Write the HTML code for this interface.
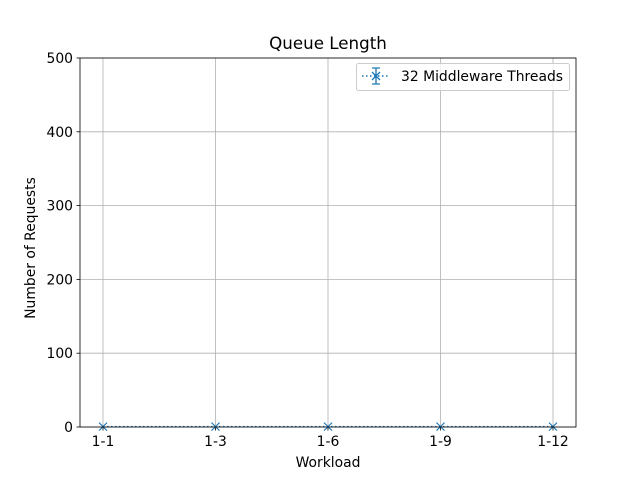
<!DOCTYPE html>
<html><head><meta charset="utf-8"><style>body{margin:0;background:#fff}svg{display:block;font-family:"DejaVu Sans","Liberation Sans",sans-serif}</style></head>
<body>
<svg id="c" width="640" height="480"></svg>
<script>
const categories=["1-1","1-3","1-6","1-9","1-12"];
const values=[0.5,0.5,0.5,0.5,0.5];
const errors=[0.3,0.3,0.3,0.3,0.3];
const yTicks=[0,100,200,300,400,500];
const NS="http://www.w3.org/2000/svg";
const svg=document.getElementById('c');
const L=80,R=576,T=58,B=427;
const xs=i=>103+i*(553-103)/(categories.length-1);
const ys=v=>B-(v/500)*(B-T);
function el(t,a,p){const e=document.createElementNS(NS,t);for(const k in a)e.setAttribute(k,a[k]);(p||svg).appendChild(e);return e;}
function txt(x,y,s,size,anchor,name,extra){const e=el('text',Object.assign({x:x,y:y,'font-size':size,'text-anchor':anchor,fill:'#000'},extra||{}));e.textContent=s;return e;}
categories.forEach((c,i)=>{const g=el('line',{x1:xs(i),x2:xs(i),y1:T,y2:B,stroke:'#b0b0b0','stroke-width':0.8});


const t=el('line',{x1:xs(i),x2:xs(i),y1:B,y2:B+3.5,stroke:'#000','stroke-width':0.8});


txt(xs(i),B+19,c,13.9,'middle','x-tick-label');});
yTicks.forEach(v=>{const g=el('line',{x1:L,x2:R,y1:ys(v),y2:ys(v),stroke:'#b0b0b0','stroke-width':0.8});


const t=el('line',{x1:L-3.5,x2:L,y1:ys(v),y2:ys(v),stroke:'#000','stroke-width':0.8});


txt(L-7,ys(v)+5,String(v),13.9,'end','y-tick-label');});
const pts=values.map((v,i)=>xs(i)+','+ys(v)).join(' ');
const line=el('polyline',{points:pts,fill:'none',stroke:'#1f77b4','stroke-width':1.5,'stroke-dasharray':'1.5,2.5'});


values.forEach((v,i)=>{const x=xs(i),y=ys(v),e=errors[i];
const eb=el('line',{x1:x,x2:x,y1:ys(v+e),y2:ys(Math.max(0,v-e)),stroke:'#1f77b4','stroke-width':1.5});


const m=el('path',{d:`M${x-4},${y-4}L${x+4},${y+4}M${x-4},${y+4}L${x+4},${y-4}`,stroke:'#1f77b4','stroke-width':1.2});

});
const fr=el('rect',{x:L,y:T,width:R-L,height:B-T,fill:'none',stroke:'#000','stroke-width':0.8});


txt(328,49,'Queue Length',16.7,'middle','chart-title');
txt(328,467,'Workload',13.9,'middle','x-axis-title');
txt(0,0,'Number of Requests',13.9,'middle','y-axis-title',{transform:'translate(35,248) rotate(-90)'});
const lg=el('g',{});


el('rect',{x:356.5,y:63.5,width:213,height:27,rx:2,fill:'#fff','fill-opacity':0.8,stroke:'#ccc'},lg);
el('line',{x1:362,x2:390,y1:76,y2:76,stroke:'#1f77b4','stroke-width':1.5,'stroke-dasharray':'1.5,2.5'},lg);
el('path',{d:'M376,68V84M372,68H380M372,84H380M372,72L380,80M372,80L380,72',stroke:'#1f77b4','stroke-width':1.3,fill:'none'},lg);
const lt=el('text',{x:401,y:81,'font-size':13.9,fill:'#000'},lg);lt.textContent='32 Middleware Threads';


</script>
</body></html>
